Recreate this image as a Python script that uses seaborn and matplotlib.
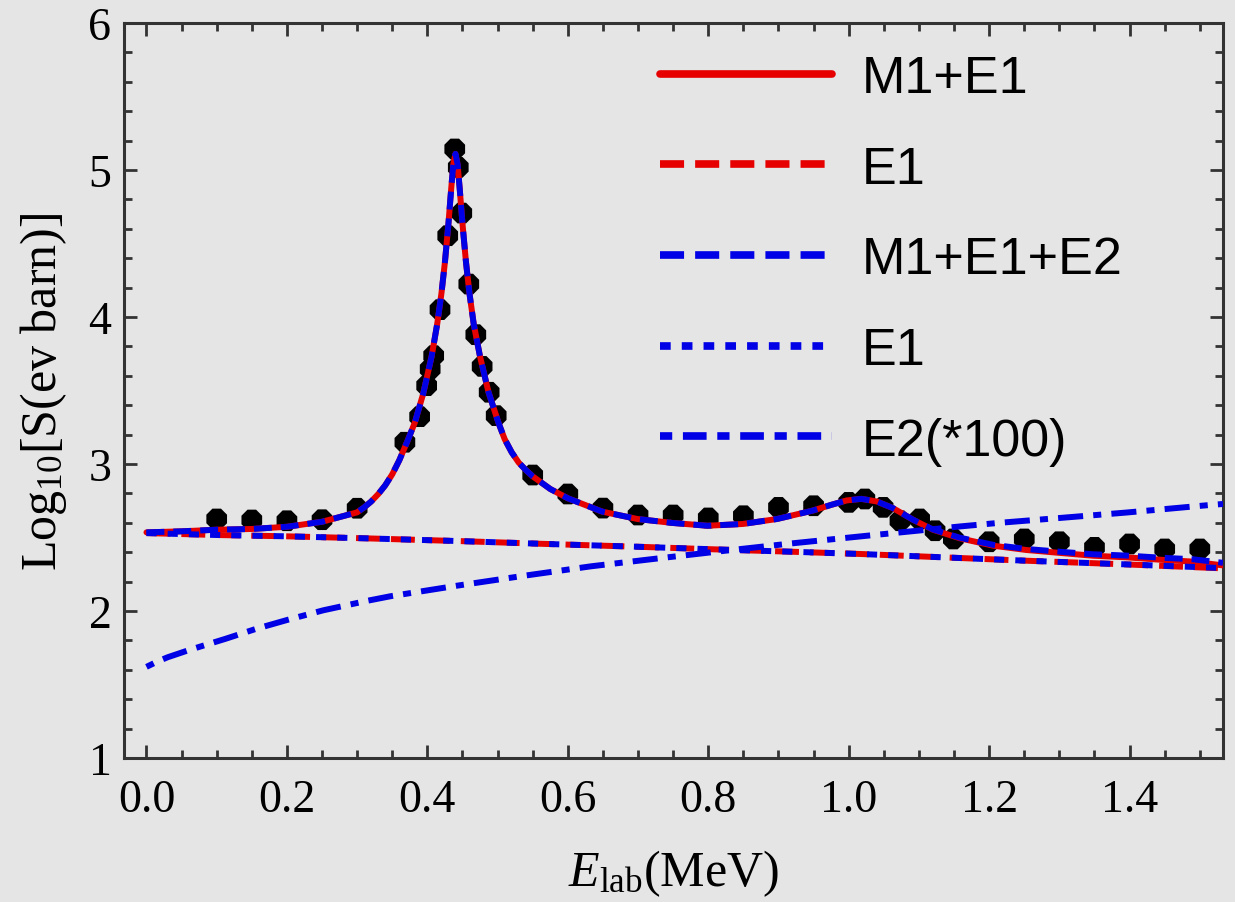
import matplotlib
matplotlib.use("Agg")
import matplotlib.pyplot as plt
from matplotlib.lines import Line2D
from matplotlib.ticker import MultipleLocator, FormatStrFormatter
import seaborn as sns

# Measured S-factor points (log10 of S in eV barn) versus lab energy (MeV)
energy = [0.10, 0.15, 0.20, 0.25, 0.30, 0.368, 0.389, 0.399, 0.404, 0.409,
          0.418, 0.429, 0.439, 0.444, 0.449, 0.459, 0.469, 0.478, 0.488, 0.498,
          0.55, 0.60, 0.65, 0.70, 0.75, 0.80, 0.85, 0.90, 0.95, 1.00,
          1.023, 1.049, 1.073, 1.101, 1.123, 1.149, 1.20, 1.25, 1.30, 1.35,
          1.40, 1.45, 1.50]
log_s = [2.626, 2.619, 2.614, 2.621, 2.699, 3.148, 3.322, 3.533, 3.646, 3.737,
         4.050, 4.553, 5.143, 5.018, 4.707, 4.224, 3.880, 3.664, 3.488, 3.329,
         2.925, 2.796, 2.700, 2.653, 2.653, 2.633, 2.648, 2.705, 2.716, 2.739,
         2.762, 2.705, 2.614, 2.626, 2.546, 2.490, 2.471, 2.490, 2.471, 2.433,
         2.456, 2.422, 2.422]

# Model curves: total M1+E1
tot_x = [0.0, 0.05, 0.10, 0.15, 0.20, 0.25, 0.30, 0.31, 0.32, 0.33,
         0.34, 0.35, 0.360, 0.372, 0.382, 0.394, 0.406, 0.414, 0.420, 0.425,
         0.430, 0.434, 0.437, 0.440, 0.443, 0.446, 0.450, 0.455, 0.460, 0.466,
         0.475, 0.487, 0.501, 0.51, 0.52, 0.53, 0.54, 0.55, 0.575, 0.60,
         0.649, 0.699, 0.749, 0.799, 0.849, 0.898, 0.948, 0.975, 0.997, 1.018,
         1.04, 1.063, 1.092, 1.12, 1.158, 1.206, 1.253, 1.301, 1.348, 1.396,
         1.443, 1.49, 1.533]
tot_m1e1 = [2.535, 2.542, 2.553, 2.558, 2.573, 2.607, 2.671, 2.705, 2.745, 2.795,
            2.855, 2.930, 3.025, 3.160, 3.280, 3.477, 3.731, 3.952, 4.159, 4.373,
            4.635, 4.876, 5.040, 5.110, 5.040, 4.876, 4.635, 4.373, 4.159, 3.952,
            3.731, 3.490, 3.284, 3.170, 3.080, 3.010, 2.960, 2.916, 2.830, 2.767,
            2.676, 2.626, 2.599, 2.580, 2.592, 2.626, 2.682, 2.722, 2.752, 2.763,
            2.745, 2.700, 2.620, 2.553, 2.495, 2.444, 2.415, 2.395, 2.376, 2.365,
            2.349, 2.336, 2.310]
# total M1+E1+E2
tot_m1e1e2 = [2.535, 2.542, 2.553, 2.558, 2.573, 2.607, 2.671, 2.705, 2.745, 2.795,
              2.855, 2.930, 3.025, 3.160, 3.280, 3.477, 3.731, 3.952, 4.159, 4.373,
              4.635, 4.876, 5.040, 5.110, 5.040, 4.876, 4.635, 4.373, 4.159, 3.952,
              3.731, 3.490, 3.284, 3.170, 3.080, 3.010, 2.960, 2.916, 2.830, 2.767,
              2.676, 2.626, 2.599, 2.580, 2.592, 2.626, 2.682, 2.722, 2.752, 2.763,
              2.745, 2.700, 2.620, 2.555, 2.499, 2.450, 2.422, 2.403, 2.386, 2.377,
              2.363, 2.352, 2.328]

# E1 component (same in both models)
e1_x = [0.0, 0.10, 0.20, 0.315, 0.45, 0.57, 0.70, 0.824, 0.92, 1.016,
        1.13, 1.253, 1.39, 1.533]
e1_a = [2.530, 2.517, 2.508, 2.494, 2.475, 2.456, 2.437, 2.417, 2.403, 2.388,
        2.366, 2.342, 2.318, 2.290]
e1_b = [2.530, 2.517, 2.508, 2.494, 2.475, 2.456, 2.437, 2.417, 2.403, 2.388,
        2.366, 2.342, 2.318, 2.292]

# E2 component scaled by 100
e2_x = [0.0, 0.015, 0.03, 0.061, 0.112, 0.157, 0.201, 0.252, 0.315, 0.347,
        0.442, 0.538, 0.633, 0.729, 0.824, 0.919, 1.026, 1.158, 1.215, 1.301,
        1.396, 1.514, 1.533]
e2_x100 = [1.620, 1.655, 1.685, 1.735, 1.810, 1.880, 1.940, 2.005, 2.070, 2.100,
           2.172, 2.240, 2.304, 2.358, 2.410, 2.460, 2.512, 2.575, 2.600, 2.633,
           2.670, 2.721, 2.728]

labels = ["M1+E1", "E1", "M1+E1+E2", "E1", "E2(*100)"]

BG = "#e5e5e5"
FRAME = "#333333"
RED = "#e60000"
BLUE = "#0000e6"

sns.set_style("ticks")
plt.rcParams.update({
    "font.family": ["Liberation Serif", "DejaVu Serif"],
    "mathtext.fontset": "custom",
    "mathtext.rm": "Liberation Serif",
    "mathtext.it": "Liberation Serif:italic",
    "mathtext.bf": "Liberation Serif:bold",
    "axes.edgecolor": FRAME,
    "axes.linewidth": 2.2,
    "text.color": "black",
    "axes.labelcolor": "black",
    "xtick.color": FRAME,
    "ytick.color": FRAME,
})

fig = plt.figure(figsize=(12.35, 9.03), dpi=100, facecolor=BG)
ax = fig.add_axes([124 / 1235, 1 - 759 / 903, (1223 - 124) / 1235, (759 - 24) / 903])
ax.set_facecolor(BG)

sns.scatterplot(x=energy, y=log_s, ax=ax, marker="8", s=260, color="black",
                edgecolor="none", linewidth=0, zorder=2)

lw = 4.3
sns.lineplot(x=tot_x, y=tot_m1e1, ax=ax, color=RED, lw=lw, estimator=None,
             sort=False, zorder=3)
sns.lineplot(x=tot_x, y=tot_m1e1e2, ax=ax, color=BLUE, lw=lw, estimator=None,
             sort=False, linestyle=(0, (3.0, 1.5)), zorder=4)
sns.lineplot(x=e1_x, y=e1_a, ax=ax, color=RED, lw=lw, estimator=None,
             sort=False, linestyle=(0, (4.0, 1.85)), zorder=3)
sns.lineplot(x=e1_x, y=e1_b, ax=ax, color=BLUE, lw=lw, estimator=None,
             sort=False, linestyle=(0, (1.7, 1.85)), zorder=4)
sns.lineplot(x=e2_x, y=e2_x100, ax=ax, color=BLUE, lw=lw, estimator=None,
             sort=False, linestyle=(0, (1.35, 1.7, 4.2, 1.7)), zorder=4)

ax.set_xlim(-0.032, 1.533)
ax.set_ylim(1, 6)
ax.xaxis.set_major_locator(MultipleLocator(0.2))
ax.xaxis.set_minor_locator(MultipleLocator(0.05))
ax.yaxis.set_major_locator(MultipleLocator(1))
ax.yaxis.set_minor_locator(MultipleLocator(0.2))
ax.xaxis.set_major_formatter(FormatStrFormatter("%.1f"))
ax.yaxis.set_major_formatter(FormatStrFormatter("%d"))

for side in ["top", "right", "left", "bottom"]:
    ax.spines[side].set_visible(True)
    ax.spines[side].set_color(FRAME)
    ax.spines[side].set_linewidth(2.2)

ax.tick_params(which="both", direction="in", top=True, right=True,
               color=FRAME, width=2.0, labelsize=33, labelcolor="black")
ax.tick_params(which="major", length=9.4)
ax.tick_params(which="minor", length=5.5)
ax.tick_params(axis="x", which="major", pad=15)
ax.tick_params(axis="y", which="major", pad=9)

ax.set_xlabel(r"$\mathit{E}_{\mathrm{lab}}$(MeV)", fontsize=36, labelpad=19)
ax.set_ylabel(r"Log$_{10}$[S(ev barn)]", fontsize=36, labelpad=14)

llw = 5.5
handles = [
    Line2D([], [], color=RED, lw=llw),
    Line2D([], [], color=RED, lw=llw, linestyle=(0, (3.15, 1.45))),
    Line2D([], [], color=BLUE, lw=llw, linestyle=(0, (3.15, 1.45))),
    Line2D([], [], color=BLUE, lw=llw, linestyle=(0, (1.4, 1.45))),
    Line2D([], [], color=BLUE, lw=llw, linestyle=(0, (1.6, 1.4, 3.1, 1.4))),
]
leg = ax.legend(handles, labels, loc="upper left", bbox_to_anchor=(0.4877, 0.958),
                frameon=False, borderpad=0, borderaxespad=0,
                prop={"family": "Liberation Sans", "size": 37.5},
                handlelength=3.3, handletextpad=0.58, labelspacing=0.80)
for t in leg.get_texts():
    t.set_color("black")

fig.savefig("out.png", dpi=100, facecolor=BG)
